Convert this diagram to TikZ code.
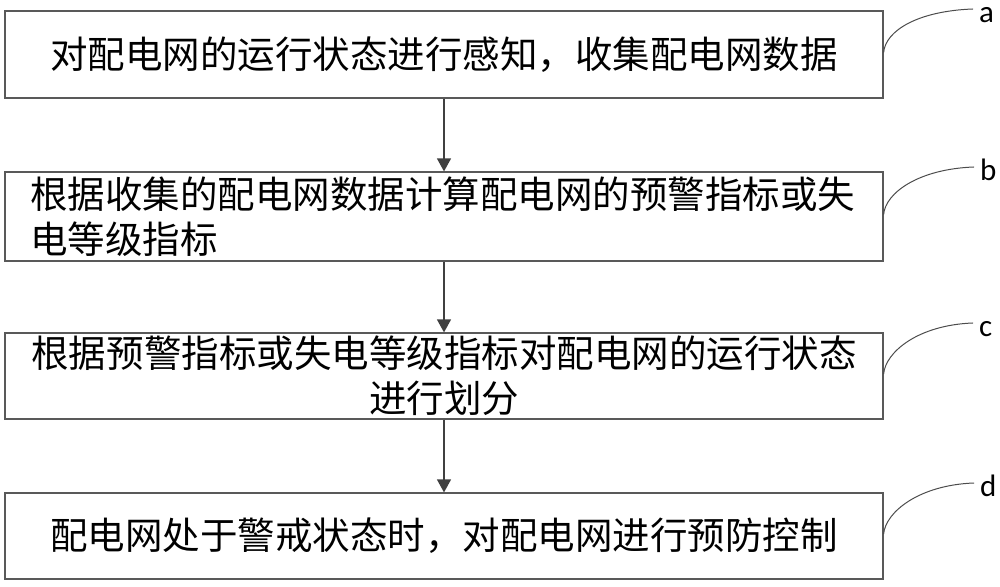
\documentclass[tikz,border=0pt]{standalone}
\usepackage{fontspec}
\newfontfamily\cjkfont{Noto Sans CJK SC}
\newfontfamily\tagfont{Carlito}
\usetikzlibrary{arrows.meta}
\tikzset{
  stepbox/.style={draw=black!65,line width=1.2pt,minimum width=878pt,
    minimum height=87pt,inner sep=0pt,
    font=\cjkfont\fontsize{37.5}{45}\selectfont},
  flow/.style={draw=black!75,line width=1.3pt,-{Triangle[length=13pt,width=14pt]}},
  callout/.style={draw=black!70,line width=1pt},
  tag/.style={font=\tagfont\fontsize{31}{36}\selectfont,inner sep=0pt,anchor=base west}
}
\begin{document}
\begin{tikzpicture}[x=1pt,y=1pt]
  \useasboundingbox (0,0) rectangle (1000,586);
  \node[stepbox] (s1) at (444,531.5) {对配电网的运行状态进行感知，收集配电网数据};
  \node[stepbox,minimum height=89pt,text width=828pt,align=left] (s2) at (444,369.5)
    {根据收集的配电网数据计算配电网的预警指标或失\\电等级指标};
  \node[stepbox,minimum height=86pt,text width=828pt,align=center] (s3) at (444,210)
    {根据预警指标或失电等级指标对配电网的运行状态\\进行划分};
  \node[stepbox,minimum height=86pt] (s4) at (444,50) {配电网处于警戒状态时，对配电网进行预防控制};
  \node[tag] (ta) at (979,563) {a};
  \node[tag] (tb) at (980,405) {b};
  \node[tag] (tc) at (979,249) {c};
  \node[tag] (td) at (980,89) {d};
  \foreach \i/\j in {s1/s2,s2/s3,s3/s4}
    \draw[flow] (\i) -- (\j);
  \foreach \s/\t in {s1/ta,s2/tb,s3/tc,s4/td}
    \draw[callout] ([yshift=2pt]\s.east) .. controls +(2,22) and +(-55,-2)
      .. ([xshift=-6pt,yshift=14pt]\t.base west);
\end{tikzpicture}
\end{document}
